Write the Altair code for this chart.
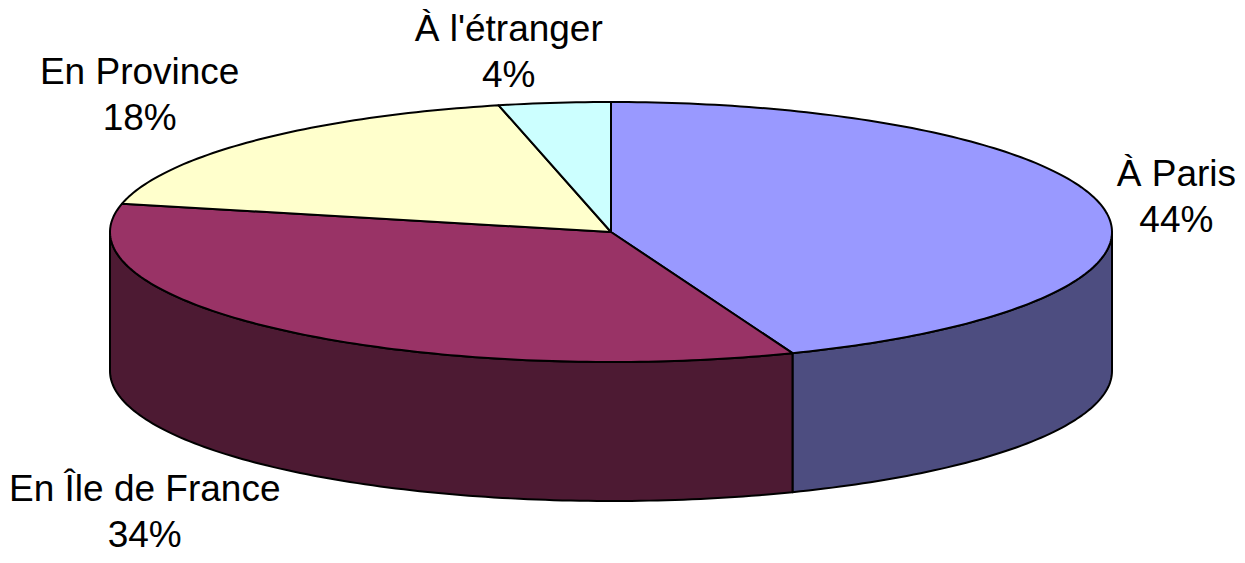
import numpy as np
import pandas as pd
import altair as alt

# ---- data ----
labels = ["À Paris", "En Île de France", "En Province", "À l'étranger"]
shares = [44.1, 34.4, 17.9, 3.6]
top_colors = ["#9999FF", "#993366", "#FFFFCC", "#CCFFFF"]
side_colors = ["#4D4D80", "#4D1A33", "#80806A", "#6A8080"]

# ---- geometry / style ----
W, H = 1229, 547
CX, CY = 603.0, 224.0
RX, RY = 501.0, 130.0
DEPTH = 139.0
FONT = 37
LINE_H = 46
LABEL_GAP = 20.0
LABEL_K = 66.0

# Arial / Liberation Sans advance widths (em)
CHAR_W = {"À": .667, "A": .667, "P": .667, "a": .556, "r": .333, "i": .222, "s": .5,
          " ": .278, "l": .222, "'": .191, "é": .556, "t": .278, "n": .556, "g": .556,
          "e": .556, "E": .667, "o": .556, "v": .5, "c": .5, "Î": .278, "d": .556,
          "F": .611, "%": .889}


def text_w(s):
    return sum(CHAR_W.get(ch, .556) for ch in s) * FONT


def ell(t_deg, drop=0.0):
    t = np.radians(t_deg)
    return [float(CX + RX * np.sin(t)), float(CY - RY * np.cos(t) + drop)]


def arc(t0, t1, drop=0.0):
    n = max(2, int(abs(t1 - t0)) + 2)
    return [ell(t, drop) for t in np.linspace(t0, t1, n)]


def feature(ring, fill):
    return {"type": "Feature",
            "geometry": {"type": "Polygon", "coordinates": [ring]},
            "properties": {"fill": fill}}


total = sum(shares)
bounds = np.concatenate([[0.0], np.cumsum(shares)]) / total * 360.0

tops, sides, texts = [], [], []
for i, lab in enumerate(labels):
    a, b = bounds[i], bounds[i + 1]
    ring = [[CX, CY]] + arc(a, b) + [[CX, CY]]
    tops.append(feature(ring, top_colors[i]))
    lo, hi = max(a, 90.0), min(b, 270.0)
    if hi > lo:
        ring = arc(lo, hi) + arc(hi, lo, DEPTH)
        ring.append(ring[0])
        sides.append(feature(ring, side_colors[i]))
    # label placement from the slice's mid angle
    mid = np.radians((a + b) / 2)
    s, c = np.sin(mid), np.cos(mid)
    px = CX + RX * s
    py = CY - RY * c + (DEPTH if c < 0 else 0.0)
    dx, dy = s * RX, -c * RY
    dx /= np.hypot(dx, dy)
    w = text_w(lab)
    lx = px + (LABEL_GAP + w / 2) * dx
    lx = min(max(lx, w / 2 + 1), W - w / 2 - 1)      # keep inside the chart
    base1 = py - LABEL_K * c - 9.75
    base1 = min(max(base1, 0.89 * FONT), H - LINE_H - 0.22 * FONT)
    pct = shares[i] / total * 100
    texts.append({"lon": float(lx), "lat": float(base1),
                  "txt": f"{lab}\n{round(pct):d}%"})


def shape_layer(feats):
    return alt.Chart(alt.Data(values=feats)).mark_geoshape(
        stroke="black", strokeWidth=2, strokeJoin="round"
    ).encode(fill=alt.Fill("properties.fill:N", scale=None)).project(
        type="identity", scale=1, translate=[0, 0])


side_layer = shape_layer(sides)
top_layer = shape_layer(tops)

text_layer = alt.Chart(pd.DataFrame(texts)).mark_text(
    font="Liberation Sans", fontSize=FONT, lineHeight=LINE_H, lineBreak="\n",
    align="center", baseline="alphabetic", color="black"
).encode(
    longitude="lon:Q", latitude="lat:Q", text="txt:N"
).project(type="identity", scale=1, translate=[0, 0])

chart = alt.layer(side_layer, top_layer, text_layer).properties(
    width=W, height=H, padding=0,
    autosize=alt.AutoSizeParams(type="none"),
    background="white",
).configure_view(strokeWidth=0)

chart.save("out.html", embed_options={"renderer": "svg", "actions": False})
